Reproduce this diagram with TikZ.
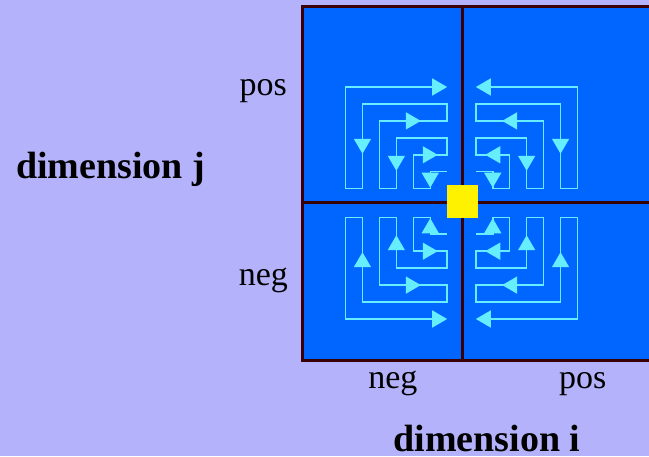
\documentclass[tikz,border=0pt]{standalone}
\usepackage{fontspec}
\setmainfont{Liberation Serif}
\usetikzlibrary{arrows.meta,decorations.markings}
\definecolor{lavender}{RGB}{180,178,250}
\definecolor{gridblue}{RGB}{0,102,255}
\definecolor{gridline}{RGB}{58,0,8}
\definecolor{trail}{RGB}{102,238,255}

\begin{document}
\begin{tikzpicture}[x=1pt,y=1pt,
  axislabel/.style={inner sep=0pt,anchor=base,font=\fontsize{34}{40}\selectfont},
  dimlabel/.style={inner sep=0pt,anchor=base,font=\fontsize{38}{44}\selectfont\bfseries},
  border/.style={draw=gridline,line width=3pt},
  trailpath/.style={draw=trail,line width=1.5pt,-{Triangle[length=15pt,width=17pt]},
    postaction={decorate},decoration={markings,
      mark=at position 32.9pt with {\arrow{Triangle[length=15pt,width=17pt]}},
      mark=at position 109.2pt with {\arrow{Triangle[length=15pt,width=17pt]}},
      mark=at position 219.4pt with {\arrow{Triangle[length=15pt,width=17pt]}},
      mark=at position 363.5pt with {\arrow{Triangle[length=15pt,width=17pt]}},
      mark=at position 541.4pt with {\arrow{Triangle[length=15pt,width=17pt]}}}}]
\useasboundingbox[fill=lavender] (0,0) rectangle (649,456);
\clip (0,0) rectangle (649,456);
% quadrants:
\fill[gridblue] (302,95) rectangle (670,449);
\draw[border] (670,449) -- (302,449) -- (302,95) -- (670,95);
\draw[border] (462,449) -- (462,95);
\draw[border] (302,253.2) -- (670,253.2);
% traversal order in each quadrant:
\foreach \cx/\cy/\sx/\sy in {447.2/267.3/-1/1,475.8/267.3/1/1,447.2/238.7/-1/-1,475.8/238.7/1/-1}{
  \begin{scope}[shift={(\cx pt,\cy pt)},x={({\sx*16.95pt},0pt)},y={(0pt,{\sy*16.95pt})}]
    \draw[trailpath] (0,1) -- (1,1) -- (1,0) -- (2,0) -- (2,2) -- (0,2) -- (0,3) -- (3,3) -- (3,0)
      -- (4,0) -- (4,4) -- (0,4) -- (0,5) -- (5,5) -- (5,0) -- (6,0) -- (6,6) -- (0,6);
  \end{scope}
}
% origin:
\fill[yellow] (447,238) rectangle (478,271);
% labels:
\node[axislabel] (jpos) at (263.3,360) {pos};
\node[axislabel] (jneg) at (263.3,170) {neg};
\node[axislabel] (ineg) at (392.8,67.7) {neg};
\node[axislabel] (ipos) at (582.8,67.7) {pos};
\node[dimlabel,anchor=base west] (dimj) at (16,277.7) {dimension j};
\node[dimlabel] (dimi) at (487,4.3) {dimension i};
\end{tikzpicture}
\end{document}
